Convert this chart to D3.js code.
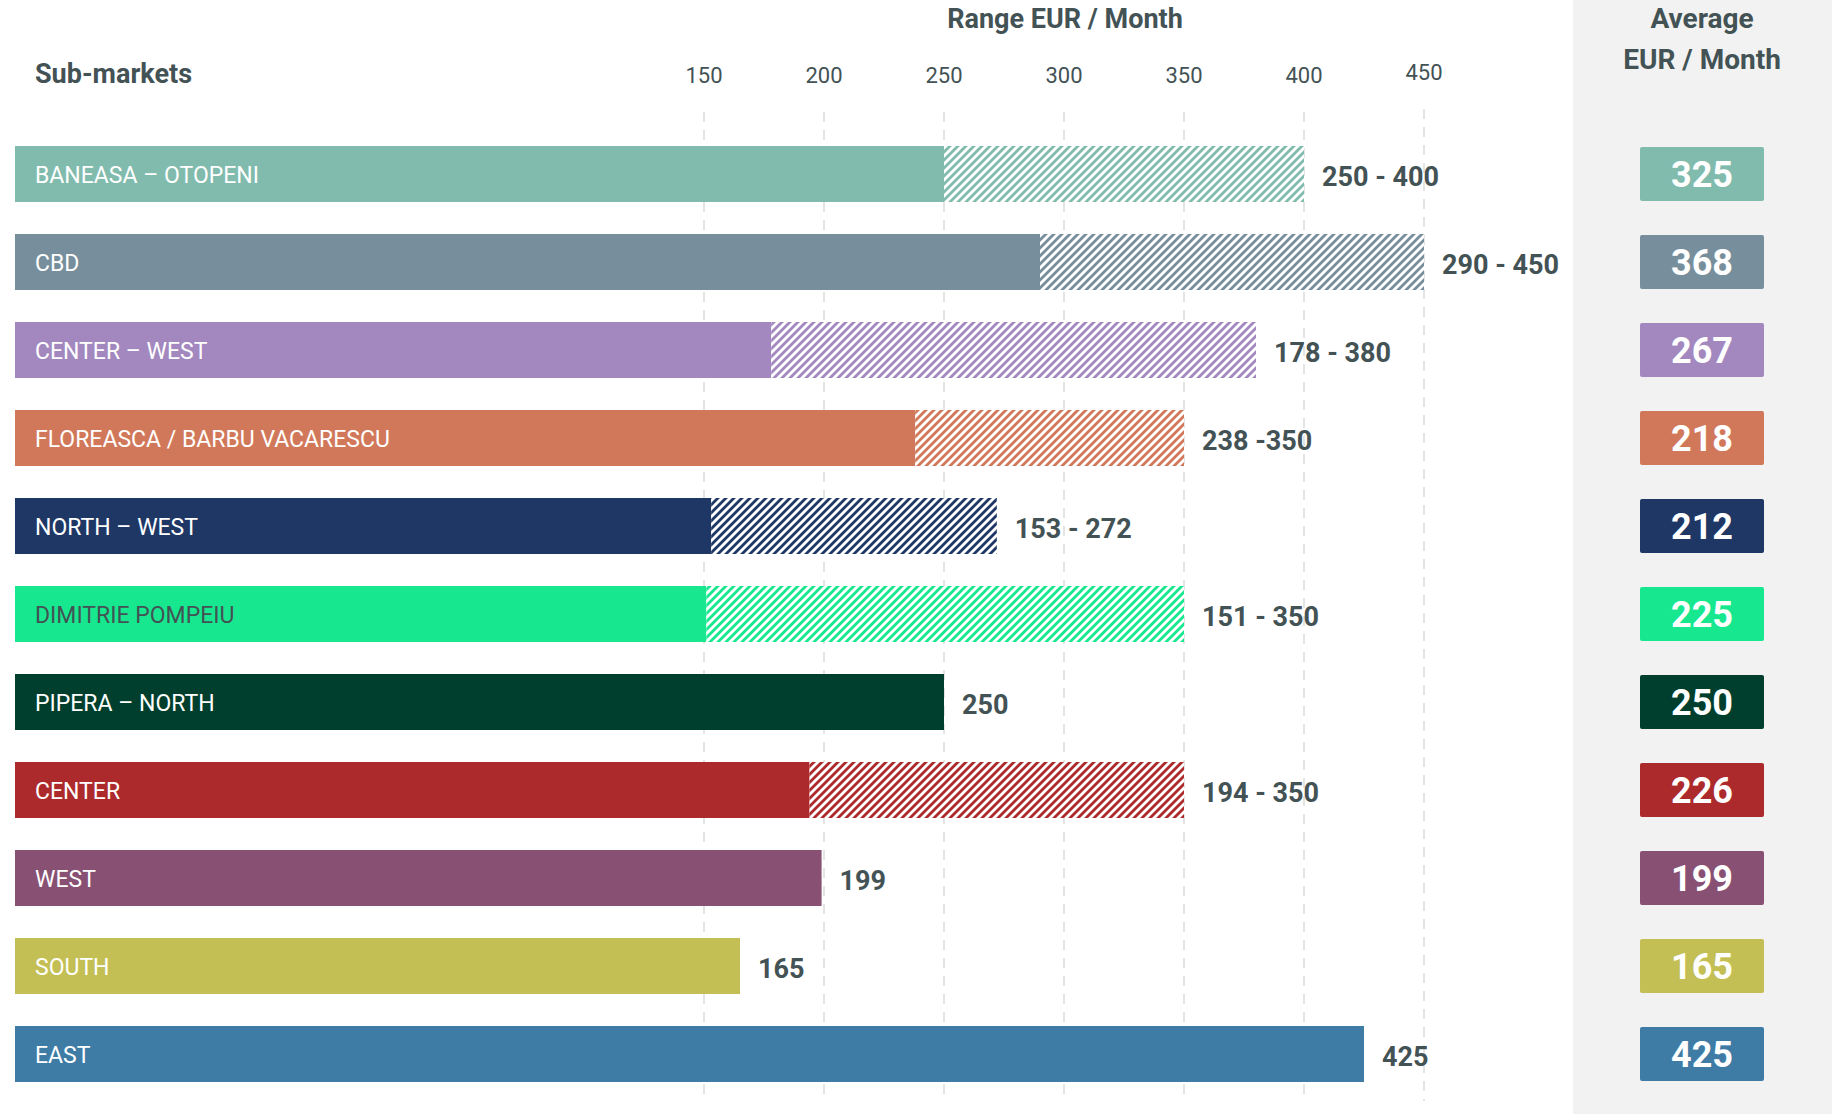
<!DOCTYPE html>
<html>
<head>
<meta charset="utf-8">
<script src="https://cdn.jsdelivr.net/npm/d3@7"></script>
<style>
  html, body { margin: 0; padding: 0; background: #ffffff; }
  svg { display: block; }
  text { font-family: Roboto, "Open Sans", sans-serif; }
</style>
</head>
<body>
<svg id="chart" width="1841" height="1114"></svg>
<script>
// Office sub-markets: rent range and average, EUR / month
const categories = [
  "BANEASA – OTOPENI", "CBD", "CENTER – WEST", "FLOREASCA / BARBU VACARESCU",
  "NORTH – WEST", "DIMITRIE POMPEIU", "PIPERA – NORTH", "CENTER", "WEST", "SOUTH", "EAST"
];
const rangeLow  = [250, 290, 178, 238, 153, 151, 250, 194, 199, 165, 425];
const rangeHigh = [400, 450, 380, 350, 272, 350, null, 350, null, null, null];
const rangeLabels = ["250 - 400", "290 - 450", "178 - 380", "238 -350", "153 - 272",
  "151 - 350", "250", "194 - 350", "199", "165", "425"];
const averages = [325, 368, 267, 218, 212, 225, 250, 226, 199, 165, 425];
const colors = ["#80bbad", "#778f9c", "#a388bf", "#d2785a", "#1f3765", "#17e88f",
  "#003f2d", "#ad2a2c", "#885073", "#c4bf54", "#3e7ca6"];
const labelInk = ["#fff", "#fff", "#fff", "#fff", "#fff", "#435254",
  "#fff", "#fff", "#fff", "#fff", "#fff"];
const tickValues = [150, 200, 250, 300, 350, 400, 450];

const rows = categories.map((name, i) => ({
  name, low: rangeLow[i], high: rangeHigh[i], label: rangeLabels[i],
  avg: averages[i], color: colors[i], ink: labelInk[i], id: i
}));

const dark = "#435254";
const svg = d3.select("#chart");
const W = 1841, H = 1114;
const barLeft = 15;

const x = d3.scaleLinear().domain([150, 450]).range([704, 1424]);
const y = d3.scaleBand().domain(categories).range([130, 1098])
  .paddingInner(32 / 88).paddingOuter(16 / 88);

// Diagonal hatch patterns, one per series colour
const defs = svg.append("defs");
rows.forEach(r => {
  const p = defs.append("pattern")
    .attr("id", "hatch" + r.id)
    .attr("patternUnits", "userSpaceOnUse")
    .attr("width", 8).attr("height", 8);
  p.append("rect").attr("width", 8).attr("height", 8).attr("fill", "#fff");
  p.append("path")
    .attr("d", "M-2,2 l4,-4 M0,8 l8,-8 M6,10 l4,-4")
    .attr("stroke", r.color).attr("stroke-width", 2.8);
});

// Average panel background
svg.append("rect").attr("x", 1573).attr("y", 0)
  .attr("width", 1832 - 1573).attr("height", H).attr("fill", "#f2f2f2");

// Headers
svg.append("text").attr("x", 1065).attr("y", 28).attr("text-anchor", "middle")
  .attr("font-size", 27).attr("font-weight", 700).attr("fill", dark)
  .text("Range EUR / Month");
svg.append("text").attr("x", 35).attr("y", 83)
  .attr("font-size", 27).attr("font-weight", 700).attr("fill", dark)
  .text("Sub-markets");
const avgHead = svg.append("text").attr("text-anchor", "middle")
  .attr("font-size", 28).attr("font-weight", 700).attr("fill", dark);
avgHead.append("tspan").attr("x", 1702).attr("y", 28).text("Average");
avgHead.append("tspan").attr("x", 1702).attr("y", 69).text("EUR / Month");

// Dashed vertical grid with tick labels
const grid = svg.append("g");
grid.selectAll("line").data(tickValues).join("line")
  .attr("x1", d => x(d)).attr("x2", d => x(d))
  .attr("y1", d => d === 450 ? 109 : 112).attr("y2", 1101)
  .attr("stroke", "#e3e5e5").attr("stroke-width", 2)
  .attr("stroke-dasharray", "10,8");
grid.selectAll("text").data(tickValues).join("text")
  .attr("x", d => x(d)).attr("y", d => d === 450 ? 80 : 83)
  .attr("text-anchor", "middle").attr("font-size", 22)
  .attr("fill", dark).text(d => d);

// Bars: solid up to the low end, hatched from low to high
const g = svg.append("g").selectAll("g").data(rows).join("g");
g.append("rect")
  .attr("x", barLeft).attr("y", d => y(d.name))
  .attr("width", d => x(d.low) - barLeft).attr("height", y.bandwidth())
  .attr("fill", d => d.color);
g.filter(d => d.high != null).append("rect")
  .attr("x", d => x(d.low)).attr("y", d => y(d.name))
  .attr("width", d => x(d.high) - x(d.low)).attr("height", y.bandwidth())
  .attr("fill", d => "url(#hatch" + d.id + ")");

// Category names inside the bars
g.append("text")
  .attr("x", 35).attr("y", d => y(d.name) + y.bandwidth() / 2 + 9)
  .attr("font-size", 23).attr("fill", d => d.ink)
  .text(d => d.name);

// Range labels at the bar ends
g.append("text")
  .attr("x", d => x(d.high != null ? d.high : d.low) + 18)
  .attr("y", d => y(d.name) + y.bandwidth() / 2 + 12)
  .attr("font-size", 27).attr("font-weight", 700).attr("fill", dark)
  .text(d => d.label);

// Average boxes
g.append("rect")
  .attr("x", 1640).attr("y", d => y(d.name) + 1)
  .attr("width", 124).attr("height", 54).attr("rx", 2)
  .attr("fill", d => d.color);
g.append("text")
  .attr("x", 1702).attr("y", d => y(d.name) + y.bandwidth() / 2 + 13)
  .attr("text-anchor", "middle")
  .attr("font-size", 36).attr("font-weight", 700).attr("fill", "#fff")
  .text(d => d.avg);
</script>
</body>
</html>
